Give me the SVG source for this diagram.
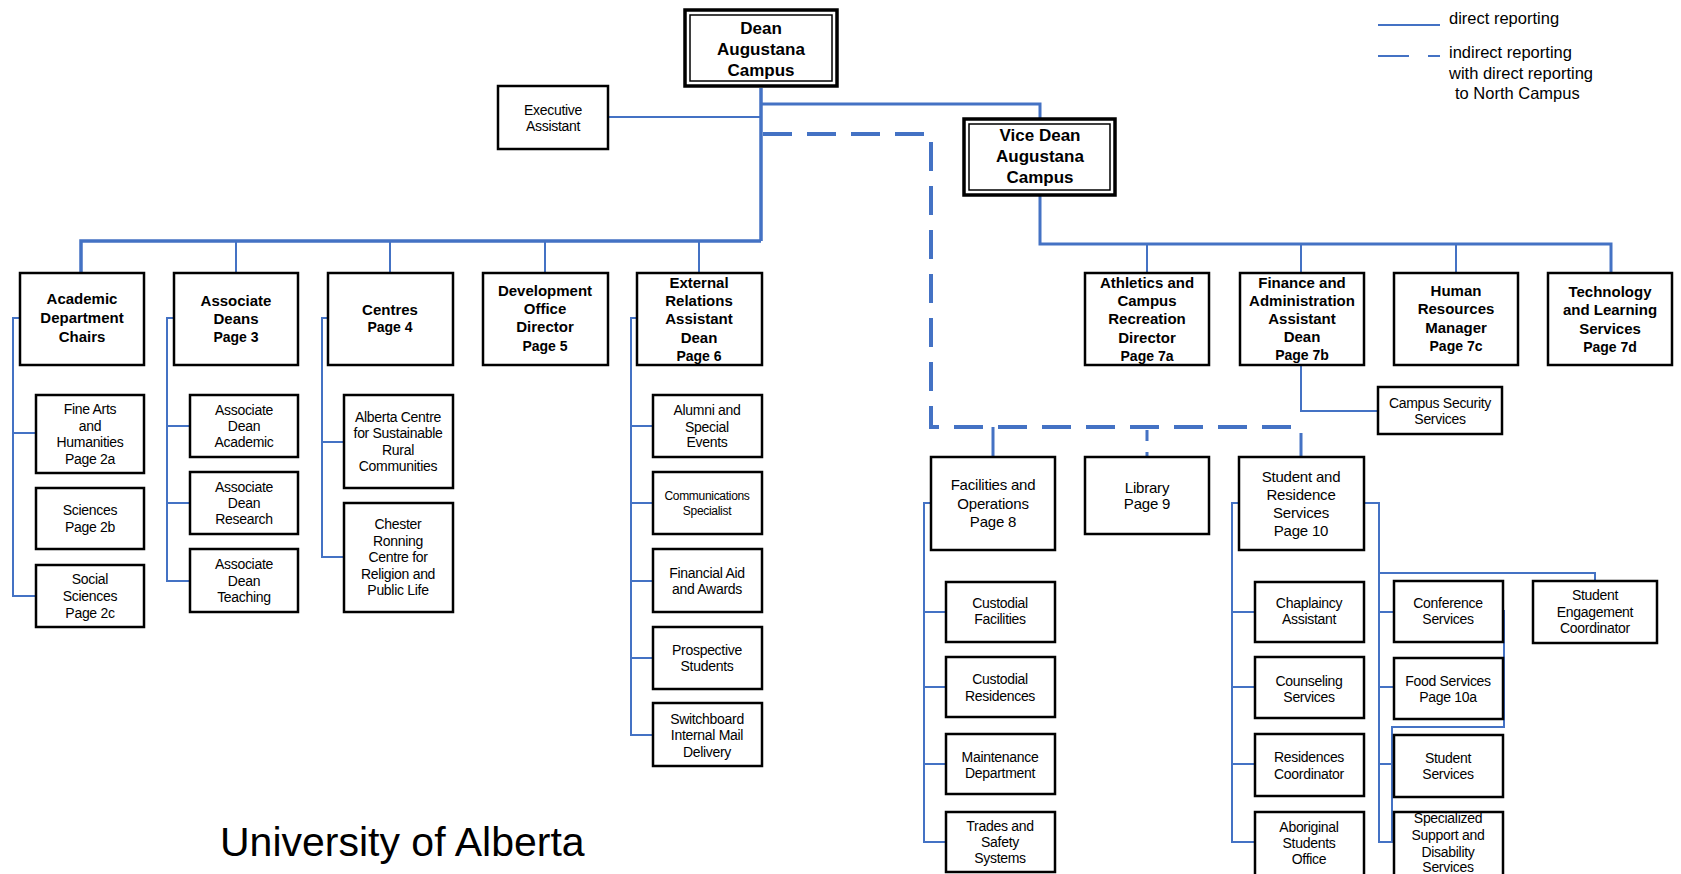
<svg xmlns="http://www.w3.org/2000/svg" width="1681" height="874" viewBox="0 0 1681 874">
<style>
.bx{fill:#fff;stroke:#000;stroke-width:2.5}
.bo{fill:#fff;stroke:#000;stroke-width:3.5}
.bi{fill:none;stroke:#000;stroke-width:1.5}
.c{fill:none;stroke:#4472C4;stroke-width:2}
.c3{fill:none;stroke:#4472C4;stroke-width:3}
.c4{fill:none;stroke:#4472C4;stroke-width:3.5}
.d{fill:none;stroke:#4472C4;stroke-width:4;stroke-dasharray:29 15}
text{font-family:"Liberation Sans",Arial,sans-serif;fill:#000}
.t{font-size:14px;text-anchor:middle;letter-spacing:-0.3px}
.s{font-size:12px;text-anchor:middle;letter-spacing:-0.3px}
.m{font-size:15px;text-anchor:middle;letter-spacing:-0.2px}
.b{font-size:15px;font-weight:bold;text-anchor:middle}
.p{font-size:14px;font-weight:bold;text-anchor:middle}
.h{font-size:17px;font-weight:bold;text-anchor:middle}
.lg{font-size:16.5px}
</style>
<g id="connectors">
<path class="c4" d="M761,88 V241 M81,272 V241 H761"/>
<path class="c" d="M236,241 V273 M390,241 V273 M545,241 V273 M699,241 V273"/>
<path class="c" d="M608,117 H761"/>
<path class="c3" d="M761,104 H1040 V118"/>
<path class="c3" d="M1040,196 V244 H1611 V273"/>
<path class="c" d="M1147,244 V273 M1301,244 V273 M1456,244 V273"/>
<path class="c" d="M1301,365 V411 H1378"/>
<path class="d" d="M763,134 H931 V427 H1296"/>
<path class="c3" d="M993,427 V457 M1301,433 V457 M1147,430 V441 M1147,452 V457"/>
<path class="c" d="M20,318 H13 V596 H36 M13,433 H36"/>
<path class="c" d="M174,318 H167 V581 H190 M167,426 H190 M167,503 H190"/>
<path class="c" d="M328,318 H322 V557 H344 M322,442 H344"/>
<path class="c" d="M637,318 H631 V735 H653 M631,426 H653 M631,503 H653 M631,581 H653 M631,658 H653"/>
<path class="c" d="M931,503 H924 V842 H946 M924,612 H946 M924,687 H946 M924,764 H946"/>
<path class="c" d="M1239,503 H1232 V842 H1255 M1232,612 H1255 M1232,687 H1255 M1232,764 H1255"/>
<path class="c" d="M1364,503 H1379 V842 H1394 M1379,612 H1394 M1379,687 H1394 M1379,764 H1394"/>
<path class="c" d="M1379,573 H1595 V581"/>
<path class="c" d="M1504,610 V727 H1392 V842"/>
</g>
<g id="legend">
<path class="c" d="M1378,25 H1440"/>
<path class="c" d="M1378,56 H1409 M1428,56 H1440"/>
<text class="lg" x="1449" y="24">direct reporting</text>
<text class="lg" x="1449" y="58">indirect reporting</text>
<text class="lg" x="1449" y="79">with direct reporting</text>
<text class="lg" x="1455" y="99">to North Campus</text>
</g>
<g id="dean">
<rect class="bo" x="685" y="10" width="152" height="76"/>
<rect class="bi" x="690" y="15" width="142" height="66"/>
<text class="h" x="761" y="34">Dean</text>
<text class="h" x="761" y="55">Augustana</text>
<text class="h" x="761" y="76">Campus</text>
</g>
<g id="vicedean">
<rect class="bo" x="964" y="119" width="151" height="76"/>
<rect class="bi" x="969" y="124" width="141" height="66"/>
<text class="h" x="1040" y="141">Vice Dean</text>
<text class="h" x="1040" y="162">Augustana</text>
<text class="h" x="1040" y="183">Campus</text>
</g>
<g id="exec">
<rect class="bx" x="498" y="86" width="110" height="63"/>
<text class="t" x="553" y="115">Executive</text>
<text class="t" x="553" y="131">Assistant</text>
</g>
<g id="academic">
<rect class="bx" x="20" y="273" width="124" height="92"/>
<text class="b" x="82" y="304">Academic</text>
<text class="b" x="82" y="323">Department</text>
<text class="b" x="82" y="342">Chairs</text>
</g>
<g id="assocdeans">
<rect class="bx" x="174" y="273" width="124" height="92"/>
<text class="b" x="236" y="306">Associate</text>
<text class="b" x="236" y="324">Deans</text>
<text class="p" x="236" y="342">Page 3</text>
</g>
<g id="centres">
<rect class="bx" x="328" y="273" width="125" height="92"/>
<text class="b" x="390" y="315">Centres</text>
<text class="p" x="390" y="332">Page 4</text>
</g>
<g id="development">
<rect class="bx" x="483" y="273" width="125" height="92"/>
<text class="b" x="545" y="296">Development</text>
<text class="b" x="545" y="314">Office</text>
<text class="b" x="545" y="332">Director</text>
<text class="p" x="545" y="351">Page 5</text>
</g>
<g id="external">
<rect class="bx" x="637" y="273" width="125" height="92"/>
<text class="b" x="699" y="288">External</text>
<text class="b" x="699" y="306">Relations</text>
<text class="b" x="699" y="324">Assistant</text>
<text class="b" x="699" y="343">Dean</text>
<text class="p" x="699" y="361">Page 6</text>
</g>
<g id="athletics">
<rect class="bx" x="1085" y="273" width="124" height="92"/>
<text class="b" x="1147" y="288">Athletics and</text>
<text class="b" x="1147" y="306">Campus</text>
<text class="b" x="1147" y="324">Recreation</text>
<text class="b" x="1147" y="343">Director</text>
<text class="p" x="1147" y="361">Page 7a</text>
</g>
<g id="finance">
<rect class="bx" x="1240" y="273" width="124" height="92"/>
<text class="b" x="1302" y="288">Finance and</text>
<text class="b" x="1302" y="306">Administration</text>
<text class="b" x="1302" y="324">Assistant</text>
<text class="b" x="1302" y="342">Dean</text>
<text class="p" x="1302" y="360">Page 7b</text>
</g>
<g id="hr">
<rect class="bx" x="1394" y="273" width="124" height="92"/>
<text class="b" x="1456" y="296">Human</text>
<text class="b" x="1456" y="314">Resources</text>
<text class="b" x="1456" y="333">Manager</text>
<text class="p" x="1456" y="351">Page 7c</text>
</g>
<g id="tech">
<rect class="bx" x="1548" y="273" width="124" height="92"/>
<text class="b" x="1610" y="297">Technology</text>
<text class="b" x="1610" y="315">and Learning</text>
<text class="b" x="1610" y="334">Services</text>
<text class="p" x="1610" y="352">Page 7d</text>
</g>
<g id="campussecurity">
<rect class="bx" x="1378" y="387" width="124" height="47"/>
<text class="t" x="1440" y="408">Campus Security</text>
<text class="t" x="1440" y="424">Services</text>
</g>
<g id="facilities">
<rect class="bx" x="931" y="457" width="124" height="93"/>
<text class="m" x="993" y="490">Facilities and</text>
<text class="m" x="993" y="509">Operations</text>
<text class="m" x="993" y="527">Page 8</text>
</g>
<g id="library">
<rect class="bx" x="1085" y="457" width="124" height="77"/>
<text class="m" x="1147" y="493">Library</text>
<text class="m" x="1147" y="509">Page 9</text>
</g>
<g id="studentres">
<rect class="bx" x="1239" y="457" width="125" height="93"/>
<text class="m" x="1301" y="482">Student and</text>
<text class="m" x="1301" y="500">Residence</text>
<text class="m" x="1301" y="518">Services</text>
<text class="m" x="1301" y="536">Page 10</text>
</g>
<g id="finearts">
<rect class="bx" x="36" y="395" width="108" height="78"/>
<text class="t" x="90" y="414">Fine Arts</text>
<text class="t" x="90" y="431">and</text>
<text class="t" x="90" y="447">Humanities</text>
<text class="t" x="90" y="464">Page 2a</text>
</g>
<g id="sciences">
<rect class="bx" x="36" y="488" width="108" height="61"/>
<text class="t" x="90" y="515">Sciences</text>
<text class="t" x="90" y="532">Page 2b</text>
</g>
<g id="socialsciences">
<rect class="bx" x="36" y="565" width="108" height="62"/>
<text class="t" x="90" y="584">Social</text>
<text class="t" x="90" y="601">Sciences</text>
<text class="t" x="90" y="618">Page 2c</text>
</g>
<g id="adacademic">
<rect class="bx" x="190" y="395" width="108" height="62"/>
<text class="t" x="244" y="415">Associate</text>
<text class="t" x="244" y="431">Dean</text>
<text class="t" x="244" y="447">Academic</text>
</g>
<g id="adresearch">
<rect class="bx" x="190" y="472" width="108" height="62"/>
<text class="t" x="244" y="492">Associate</text>
<text class="t" x="244" y="508">Dean</text>
<text class="t" x="244" y="524">Research</text>
</g>
<g id="adteaching">
<rect class="bx" x="190" y="549" width="108" height="63"/>
<text class="t" x="244" y="569">Associate</text>
<text class="t" x="244" y="586">Dean</text>
<text class="t" x="244" y="602">Teaching</text>
</g>
<g id="alberta">
<rect class="bx" x="344" y="395" width="109" height="93"/>
<text class="t" x="398" y="422">Alberta Centre</text>
<text class="t" x="398" y="438">for Sustainable</text>
<text class="t" x="398" y="455">Rural</text>
<text class="t" x="398" y="471">Communities</text>
</g>
<g id="chester">
<rect class="bx" x="344" y="503" width="109" height="109"/>
<text class="t" x="398" y="529">Chester</text>
<text class="t" x="398" y="546">Ronning</text>
<text class="t" x="398" y="562">Centre for</text>
<text class="t" x="398" y="579">Religion and</text>
<text class="t" x="398" y="595">Public Life</text>
</g>
<g id="alumni">
<rect class="bx" x="653" y="395" width="109" height="62"/>
<text class="t" x="707" y="415">Alumni and</text>
<text class="t" x="707" y="432">Special</text>
<text class="t" x="707" y="447">Events</text>
</g>
<g id="communications">
<rect class="bx" x="653" y="472" width="109" height="62"/>
<text class="s" x="707" y="500">Communications</text>
<text class="s" x="707" y="515">Specialist</text>
</g>
<g id="financialaid">
<rect class="bx" x="653" y="549" width="109" height="63"/>
<text class="t" x="707" y="578">Financial Aid</text>
<text class="t" x="707" y="594">and Awards</text>
</g>
<g id="prospective">
<rect class="bx" x="653" y="627" width="109" height="62"/>
<text class="t" x="707" y="655">Prospective</text>
<text class="t" x="707" y="671">Students</text>
</g>
<g id="switchboard">
<rect class="bx" x="653" y="703" width="109" height="63"/>
<text class="t" x="707" y="724">Switchboard</text>
<text class="t" x="707" y="740">Internal Mail</text>
<text class="t" x="707" y="757">Delivery</text>
</g>
<g id="custfac">
<rect class="bx" x="946" y="582" width="109" height="60"/>
<text class="t" x="1000" y="608">Custodial</text>
<text class="t" x="1000" y="624">Facilities</text>
</g>
<g id="custres">
<rect class="bx" x="946" y="657" width="109" height="60"/>
<text class="t" x="1000" y="684">Custodial</text>
<text class="t" x="1000" y="701">Residences</text>
</g>
<g id="maintenance">
<rect class="bx" x="946" y="734" width="109" height="60"/>
<text class="t" x="1000" y="762">Maintenance</text>
<text class="t" x="1000" y="778">Department</text>
</g>
<g id="trades">
<rect class="bx" x="946" y="812" width="109" height="60"/>
<text class="t" x="1000" y="831">Trades and</text>
<text class="t" x="1000" y="847">Safety</text>
<text class="t" x="1000" y="863">Systems</text>
</g>
<g id="chaplaincy">
<rect class="bx" x="1255" y="582" width="109" height="60"/>
<text class="t" x="1309" y="608">Chaplaincy</text>
<text class="t" x="1309" y="624">Assistant</text>
</g>
<g id="counseling">
<rect class="bx" x="1255" y="657" width="109" height="61"/>
<text class="t" x="1309" y="686">Counseling</text>
<text class="t" x="1309" y="702">Services</text>
</g>
<g id="rescoord">
<rect class="bx" x="1255" y="734" width="109" height="62"/>
<text class="t" x="1309" y="762">Residences</text>
<text class="t" x="1309" y="779">Coordinator</text>
</g>
<g id="aboriginal">
<rect class="bx" x="1255" y="812" width="109" height="64"/>
<text class="t" x="1309" y="832">Aboriginal</text>
<text class="t" x="1309" y="848">Students</text>
<text class="t" x="1309" y="864">Office</text>
</g>
<g id="conference">
<rect class="bx" x="1394" y="581" width="109" height="61"/>
<text class="t" x="1448" y="608">Conference</text>
<text class="t" x="1448" y="624">Services</text>
</g>
<g id="food">
<rect class="bx" x="1394" y="658" width="109" height="61"/>
<text class="t" x="1448" y="686">Food Services</text>
<text class="t" x="1448" y="702">Page 10a</text>
</g>
<g id="studentservices">
<rect class="bx" x="1394" y="735" width="109" height="62"/>
<text class="t" x="1448" y="763">Student</text>
<text class="t" x="1448" y="779">Services</text>
</g>
<g id="specialized">
<rect class="bx" x="1394" y="812" width="109" height="64"/>
<text class="t" x="1448" y="823">Specialized</text>
<text class="t" x="1448" y="840">Support and</text>
<text class="t" x="1448" y="857">Disability</text>
<text class="t" x="1448" y="872">Services</text>
</g>
<g id="engagement">
<rect class="bx" x="1533" y="581" width="124" height="62"/>
<text class="t" x="1595" y="600">Student</text>
<text class="t" x="1595" y="617">Engagement</text>
<text class="t" x="1595" y="633">Coordinator</text>
</g>
<text x="220" y="856" font-size="41">University of Alberta</text>
</svg>
